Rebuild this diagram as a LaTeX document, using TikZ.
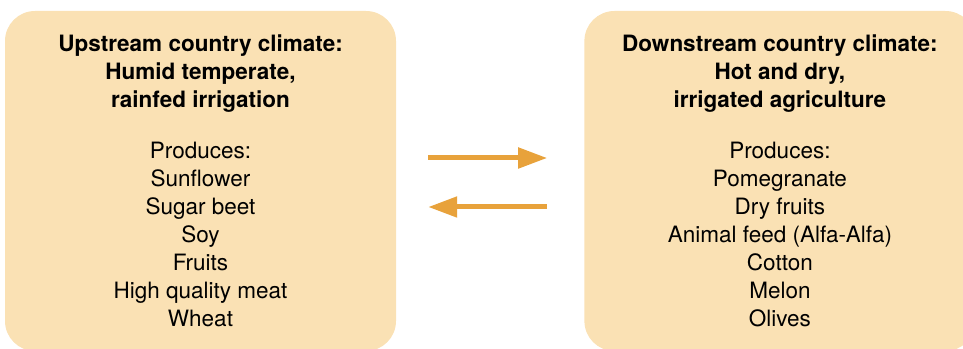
\documentclass[tikz,border=0pt]{standalone}
\usepackage{fontspec}
\setmainfont{TeX Gyre Heros}
\usepackage{tikz}
\usetikzlibrary{arrows.meta}
\usetikzlibrary{positioning}
\definecolor{boxfill}{HTML}{FAE1B4}
\definecolor{flowcol}{HTML}{E8A23B}
\tikzset{
    climate/.style={
           rectangle,
           rounded corners=30pt,
           fill=boxfill,
           minimum width=391pt,
           minimum height=340pt,
           inner sep=0pt,
           align=center,
           font=\fontsize{22.5}{28}\selectfont,
           },
    flow/.style={
           draw=flowcol,
           fill=flowcol,
           line width=5pt,
           -{Triangle[length=29pt,width=20pt]},
           },
}
\begin{document}
\begin{tikzpicture}
[
x=1pt,y=1pt
]

 \useasboundingbox (0,0) rectangle (963,348);

 % UPSTREAM COUNTRY
 \node[climate] (UPBOX) at (200.5,167)
 {%
 \textbf{Upstream country climate:}\\
 \textbf{Humid temperate,}\\
 \textbf{rainfed irrigation}\\[23pt]
 Produces:\\
 Sunflower\\
 Sugar beet\\
 Soy\\
 Fruits\\
 High quality meat\\
 Wheat
 };

 % DOWNSTREAM COUNTRY
 \node[climate,
 right=188pt of UPBOX] (DOWNBOX)
 {%
 \textbf{Downstream country climate:}\\
 \textbf{Hot and dry,}\\
 \textbf{irrigated agriculture}\\[23pt]
 Produces:\\
 Pomegranate\\
 Dry fruits\\
 Animal feed (Alfa-Alfa)\\
 Cotton\\
 Melon\\
 Olives
 };

 % ends of the trade arrows
 \coordinate (EXPORT_FROM) at ([shift={(32,23)}]UPBOX.east);
 \coordinate (EXPORT_TO) at ([shift={(-37,23)}]DOWNBOX.west);
 \coordinate (IMPORT_FROM) at ([shift={(-37,-26)}]DOWNBOX.west);
 \coordinate (IMPORT_TO) at ([shift={(32,-26)}]UPBOX.east);

 % draw the trade arrows
 \path
  (EXPORT_FROM) edge[flow] (EXPORT_TO)
  (IMPORT_FROM) edge[flow] (IMPORT_TO)
 ;

\end{tikzpicture}
\end{document}
